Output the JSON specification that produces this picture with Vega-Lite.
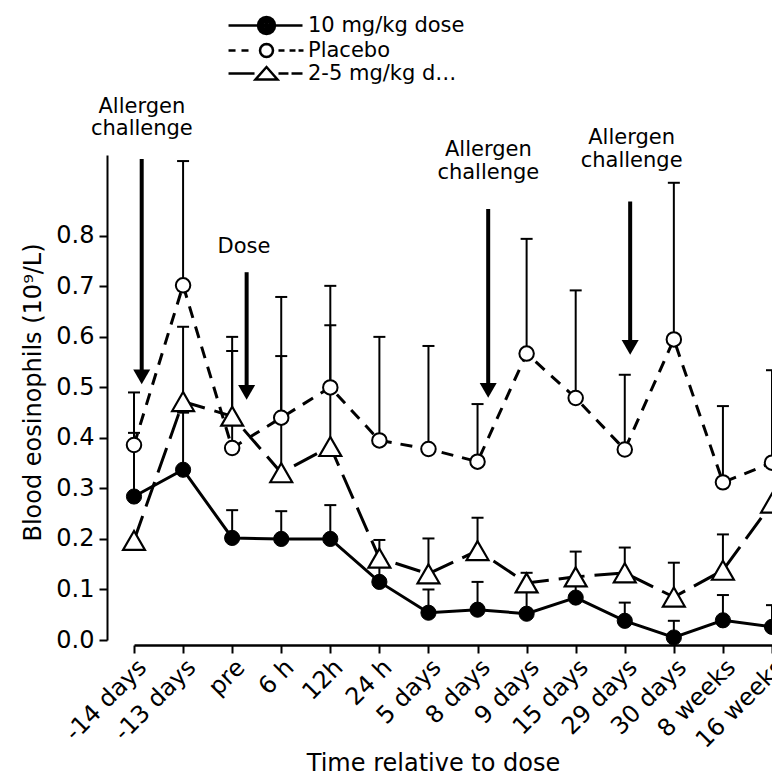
{
  "$schema": "https://vega.github.io/schema/vega-lite/v6.json",
  "usermeta": {"embedOptions": {"actions": false}},
  "width": 638,
  "height": 640,
  "autosize": {"type": "none"},
  "padding": {"left": 134, "top": 0, "right": 0, "bottom": 136},
  "background": "white",
  "config": {
    "font": "DejaVu Sans",
    "view": {"stroke": null},
    "axis": {"labelColor": "black", "titleColor": "black", "domainColor": "black", "tickColor": "black", "grid": false, "labelFont": "DejaVu Sans", "titleFont": "DejaVu Sans", "titleFontWeight": "normal"}
  },
  "datasets": {
    "series": [
      {"i": 0, "time": "-14 days", "group": "10 mg/kg dose", "mean": 0.284, "upper": 0.41},
      {"i": 1, "time": "-13 days", "group": "10 mg/kg dose", "mean": 0.337, "upper": 0.45},
      {"i": 2, "time": "pre", "group": "10 mg/kg dose", "mean": 0.202, "upper": 0.257},
      {"i": 3, "time": "6 h", "group": "10 mg/kg dose", "mean": 0.2, "upper": 0.255},
      {"i": 4, "time": "12h", "group": "10 mg/kg dose", "mean": 0.2, "upper": 0.267},
      {"i": 5, "time": "24 h", "group": "10 mg/kg dose", "mean": 0.115, "upper": 0.15},
      {"i": 6, "time": "5 days", "group": "10 mg/kg dose", "mean": 0.054, "upper": 0.1},
      {"i": 7, "time": "8 days", "group": "10 mg/kg dose", "mean": 0.06, "upper": 0.115},
      {"i": 8, "time": "9 days", "group": "10 mg/kg dose", "mean": 0.052, "upper": 0.1},
      {"i": 9, "time": "15 days", "group": "10 mg/kg dose", "mean": 0.084, "upper": 0.11},
      {"i": 10, "time": "29 days", "group": "10 mg/kg dose", "mean": 0.038, "upper": 0.074},
      {"i": 11, "time": "30 days", "group": "10 mg/kg dose", "mean": 0.005, "upper": 0.038},
      {"i": 12, "time": "8 weeks", "group": "10 mg/kg dose", "mean": 0.039, "upper": 0.089},
      {"i": 13, "time": "16 weeks", "group": "10 mg/kg dose", "mean": 0.026, "upper": 0.069},
      {"i": 0, "time": "-14 days", "group": "Placebo", "mean": 0.386, "upper": 0.49},
      {"i": 1, "time": "-13 days", "group": "Placebo", "mean": 0.702, "upper": 0.948},
      {"i": 2, "time": "pre", "group": "Placebo", "mean": 0.38, "upper": 0.6},
      {"i": 3, "time": "6 h", "group": "Placebo", "mean": 0.44, "upper": 0.679},
      {"i": 4, "time": "12h", "group": "Placebo", "mean": 0.5, "upper": 0.701},
      {"i": 5, "time": "24 h", "group": "Placebo", "mean": 0.395, "upper": 0.6},
      {"i": 6, "time": "5 days", "group": "Placebo", "mean": 0.378, "upper": 0.582},
      {"i": 7, "time": "8 days", "group": "Placebo", "mean": 0.353, "upper": 0.467},
      {"i": 8, "time": "9 days", "group": "Placebo", "mean": 0.567, "upper": 0.794},
      {"i": 9, "time": "15 days", "group": "Placebo", "mean": 0.479, "upper": 0.692},
      {"i": 10, "time": "29 days", "group": "Placebo", "mean": 0.377, "upper": 0.525},
      {"i": 11, "time": "30 days", "group": "Placebo", "mean": 0.595, "upper": 0.905},
      {"i": 12, "time": "8 weeks", "group": "Placebo", "mean": 0.312, "upper": 0.463},
      {"i": 13, "time": "16 weeks", "group": "Placebo", "mean": 0.351, "upper": 0.534},
      {"i": 0, "time": "-14 days", "group": "2-5 mg/kg dose", "mean": 0.197},
      {"i": 1, "time": "-13 days", "group": "2-5 mg/kg dose", "mean": 0.472, "upper": 0.62},
      {"i": 2, "time": "pre", "group": "2-5 mg/kg dose", "mean": 0.443, "upper": 0.572},
      {"i": 3, "time": "6 h", "group": "2-5 mg/kg dose", "mean": 0.331, "upper": 0.562},
      {"i": 4, "time": "12h", "group": "2-5 mg/kg dose", "mean": 0.383, "upper": 0.623},
      {"i": 5, "time": "24 h", "group": "2-5 mg/kg dose", "mean": 0.162, "upper": 0.198},
      {"i": 6, "time": "5 days", "group": "2-5 mg/kg dose", "mean": 0.131, "upper": 0.201},
      {"i": 7, "time": "8 days", "group": "2-5 mg/kg dose", "mean": 0.177, "upper": 0.242},
      {"i": 8, "time": "9 days", "group": "2-5 mg/kg dose", "mean": 0.113, "upper": 0.133},
      {"i": 9, "time": "15 days", "group": "2-5 mg/kg dose", "mean": 0.125, "upper": 0.175},
      {"i": 10, "time": "29 days", "group": "2-5 mg/kg dose", "mean": 0.133, "upper": 0.183},
      {"i": 11, "time": "30 days", "group": "2-5 mg/kg dose", "mean": 0.085, "upper": 0.153},
      {"i": 12, "time": "8 weeks", "group": "2-5 mg/kg dose", "mean": 0.138, "upper": 0.209},
      {"i": 13, "time": "16 weeks", "group": "2-5 mg/kg dose", "mean": 0.271}
    ],
    "arrows": [
      {"ax": 0.157, "top": 0.952, "head": 0.521},
      {"ax": 2.295, "top": 0.728, "head": 0.49},
      {"ax": 7.217, "top": 0.853, "head": 0.494},
      {"ax": 10.11, "top": 0.868, "head": 0.579}
    ],
    "notes": [
      {"nx": 0.16, "ny": 1.044, "label": "Allergen"},
      {"nx": 0.16, "ny": 1.0, "label": "challenge"},
      {"nx": 2.24, "ny": 0.767, "label": "Dose"},
      {"nx": 7.22, "ny": 0.958, "label": "Allergen"},
      {"nx": 7.22, "ny": 0.913, "label": "challenge"},
      {"nx": 10.14, "ny": 0.981, "label": "Allergen"},
      {"nx": 10.14, "ny": 0.937, "label": "challenge"}
    ]
  },
  "data": {"name": "series"},
  "encoding": {
    "x": {
      "field": "i", "type": "quantitative",
      "scale": {"domain": [0, 13], "nice": false, "zero": false},
      "axis": {"title": "Time relative to dose", "values": [0, 1, 2, 3, 4, 5, 6, 7, 8, 9, 10, 11, 12, 13], "labelExpr": "['-14 days','-13 days','pre','6 h','12h','24 h','5 days','8 days','9 days','15 days','29 days','30 days','8 weeks','16 weeks'][datum.value]", "labelAngle": -45, "labelFontSize": 24, "labelFlush": false, "labelOverlap": false, "tickSize": 8, "tickWidth": 2, "domainWidth": 2.5, "offset": 5, "labelPadding": 2, "titleFontSize": 24, "titleX": 299, "titleY": 125, "titleBaseline": "alphabetic"}
    },
    "y": {
      "field": "mean", "type": "quantitative",
      "scale": {"domain": [0, 1.2668], "nice": false, "zero": false},
      "axis": {"title": "Blood eosinophils (10⁹/L)", "values": [0, 0.1, 0.2, 0.3, 0.4, 0.5, 0.6, 0.7, 0.8], "format": ".1f", "offset": 27, "tickSize": 8, "tickWidth": 2, "domainWidth": 2, "domainDash": [485, 2000], "labelFontSize": 24, "labelPadding": 5, "labelFlush": false, "titleFontSize": 24, "titlePadding": 10, "titleY": 392}
    }
  },
  "layer": [
    {
      "transform": [{"filter": "isValid(datum.upper)"}],
      "mark": {"type": "rule", "color": "black", "strokeWidth": 2},
      "encoding": {"y2": {"field": "upper"}}
    },
    {
      "transform": [{"filter": "isValid(datum.upper)"}],
      "mark": {"type": "tick", "orient": "horizontal", "color": "black", "size": 12, "thickness": 2, "opacity": 1},
      "encoding": {"y": {"field": "upper", "type": "quantitative"}}
    },
    {
      "transform": [{"filter": "datum.group === '10 mg/kg dose'"}],
      "mark": {"type": "line", "color": "black", "strokeWidth": 3}
    },
    {
      "transform": [{"filter": "datum.group === 'Placebo'"}],
      "mark": {"type": "line", "color": "black", "strokeWidth": 3, "strokeDash": [12, 9]}
    },
    {
      "transform": [{"filter": "datum.group === '2-5 mg/kg dose'"}],
      "mark": {"type": "line", "color": "black", "strokeWidth": 3, "strokeDash": [26, 10]}
    },
    {
      "transform": [{"filter": "datum.group === '2-5 mg/kg dose'"}],
      "mark": {"type": "point", "shape": "triangle-up", "size": 480, "filled": true, "fill": "white", "stroke": "black", "strokeWidth": 2.2, "opacity": 1}
    },
    {
      "transform": [{"filter": "datum.group === 'Placebo'"}],
      "mark": {"type": "point", "shape": "circle", "size": 210, "filled": true, "fill": "white", "stroke": "black", "strokeWidth": 2, "opacity": 1}
    },
    {
      "transform": [{"filter": "datum.group === '10 mg/kg dose'"}],
      "mark": {"type": "point", "shape": "circle", "size": 230, "filled": true, "fill": "black", "stroke": "black", "strokeWidth": 1, "opacity": 1}
    },
    {
      "transform": [{"filter": "datum.mean < 0"}],
      "mark": {"type": "point", "filled": false, "stroke": "black", "strokeWidth": 2.5, "size": 324, "opacity": 1},
      "encoding": {
        "shape": {
          "field": "group", "type": "nominal",
          "scale": {"domain": ["10 mg/kg dose", "Placebo", "2-5 mg/kg dose"], "range": [
            "M-4.22,0L4,0M0.944,0L0.872,0.361L0.667,0.667L0.361,0.872L0,0.944L-0.361,0.872L-0.667,0.667L-0.872,0.361L-0.944,0L-0.872,-0.361L-0.667,-0.667L-0.361,-0.872L0,-0.944L0.361,-0.872L0.667,-0.667L0.872,-0.361ZM0.7,0L0.647,0.268L0.495,0.495L0.268,0.647L0,0.7L-0.268,0.647L-0.495,0.495L-0.647,0.268L-0.7,0L-0.647,-0.268L-0.495,-0.495L-0.268,-0.647L0,-0.7L0.268,-0.647L0.495,-0.495L0.647,-0.268ZM0.46,0L0.325,0.325L0,0.46L-0.325,0.325L-0.46,0L-0.325,-0.325L0,-0.46L0.325,-0.325ZM0.22,0L0,0.22L-0.22,0L0,-0.22Z",
            "M-4.22,0L-3.44,0M-2.78,0L-2,0M1.33,0L2,0M2.56,0L3.22,0M3.56,0L4.11,0M0.72,0L0.665,0.276L0.509,0.509L0.276,0.665L0,0.72L-0.276,0.665L-0.509,0.509L-0.665,0.276L-0.72,0L-0.665,-0.276L-0.509,-0.509L-0.276,-0.665L0,-0.72L0.276,-0.665L0.509,-0.509L0.665,-0.276Z",
            "M-4.22,0L-1.33,0M1.33,0L2.44,0M2.78,0L4,0M0,-0.72L1.22,0.67L-1.22,0.67Z"
          ]},
          "legend": {"title": null, "orient": "top-left", "offset": 15, "symbolOffset": 107, "labelOffset": 31, "labelFontSize": 21, "labelColor": "black", "symbolSize": 324, "symbolStrokeWidth": 2.5, "symbolStrokeColor": "black", "symbolFillColor": "white", "rowPadding": 0}
        }
      }
    },
    {
      "data": {"name": "arrows"},
      "mark": {"type": "rule", "color": "black", "strokeWidth": 4},
      "encoding": {
        "x": {"field": "ax", "type": "quantitative"},
        "y": {"field": "top", "type": "quantitative"},
        "y2": {"field": "head"}
      }
    },
    {
      "data": {"name": "arrows"},
      "mark": {"type": "point", "shape": "triangle-down", "size": 290, "filled": true, "color": "black", "opacity": 1},
      "encoding": {
        "x": {"field": "ax", "type": "quantitative"},
        "y": {"field": "head", "type": "quantitative"}
      }
    },
    {
      "data": {"name": "notes"},
      "mark": {"type": "text", "font": "DejaVu Sans", "fontSize": 21, "color": "black", "align": "center", "baseline": "alphabetic"},
      "encoding": {
        "x": {"field": "nx", "type": "quantitative"},
        "y": {"field": "ny", "type": "quantitative"},
        "text": {"field": "label"}
      }
    }
  ]
}
